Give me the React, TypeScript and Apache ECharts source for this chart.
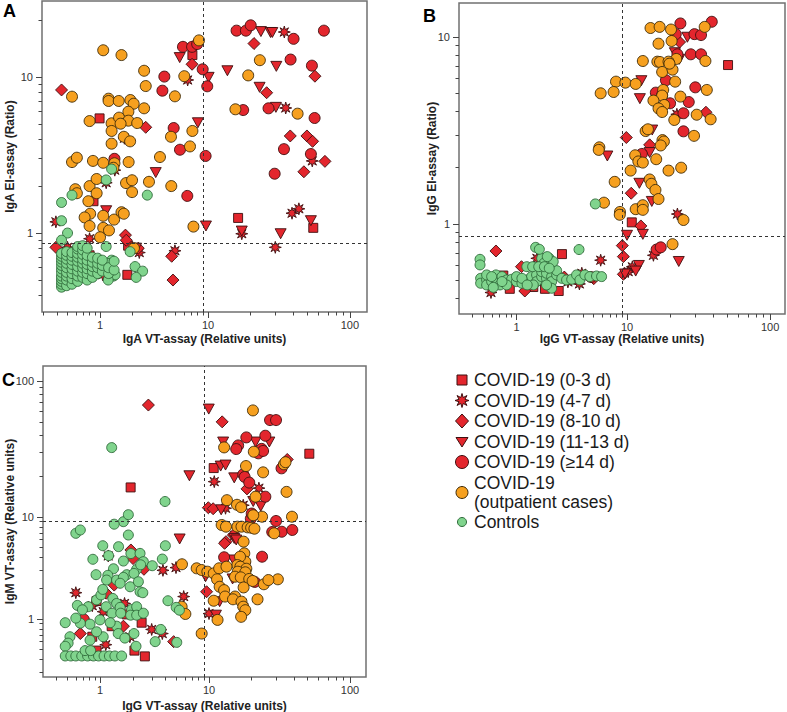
import React, { useEffect, useRef } from 'react';
import * as echarts from 'echarts';

type Pt = [number, number];

const groupNames = [
  'COVID-19 (0-3 d)',
  'COVID-19 (4-7 d)',
  'COVID-19 (8-10 d)',
  'COVID-19 (11-13 d)',
  'COVID-19 (≥14 d)',
  'COVID-19 (outpatient cases)',
  'Controls',
];
const legendLabels = [
  'COVID-19 (0-3 d)',
  'COVID-19 (4-7 d)',
  'COVID-19 (8-10 d)',
  'COVID-19 (11-13 d)',
  'COVID-19 (≥14 d)',
  'COVID-19\n(outpatient cases)',
  'Controls',
];

const xTickLabelsLow = [1, 10];
const xTickLabelsHigh = [100];

// ---------------- Panel A: IgA VT-assay (x) vs IgA EI-assay (y)
const A_d0_3: Pt[] = [[7.17, 13.1], [0.99, 5.43], [0.87, 1.6], [16.3, 1.25], [55.2, 1.08], [1.82, 0.83], [1.79, 0.54], [0.8, 0.72]];
const A_d4_7: Pt[] = [[6.48, 9.57], [34.5, 17.4], [35.3, 6.33], [1.68, 4.05], [1.37, 2.53], [1.14, 2.1], [54.3, 2.9], [39.1, 1.34], [43.7, 1.43], [17.3, 0.99], [29.8, 0.81], [4.94, 0.77], [0.5, 0.81], [0.8, 0.92], [0.39, 1.18], [2.31, 0.75], [1.21, 0.59], [1.06, 0.54]];
const A_d8_10: Pt[] = [[0.44, 8.26], [7.12, 11.7], [21.1, 15.1], [2.65, 4.76], [25.9, 7.93], [38.0, 4.19], [49.8, 4.19], [54.6, 3.87], [47.4, 2.47], [66.7, 2.88], [56.7, 10.1], [0.39, 0.81], [1.72, 0.97], [1.75, 0.9], [4.61, 0.71], [4.74, 0.5], [2.26, 0.8]];
const A_d11_13: Pt[] = [[5.47, 12.7], [13.7, 10.8], [10.1, 9.95], [23.6, 17.5], [27.6, 17.3], [28.4, 17.3], [30.3, 11.4], [23.1, 8.59], [30.1, 6.39], [8.06, 5.09], [3.28, 2.44], [1.14, 1.39], [9.57, 1.11], [53.1, 1.2], [32.5, 0.99], [17.3, 1.03], [2.16, 0.8]];
const A_d14: Pt[] = [[15.9, 17.7], [18.5, 17.7], [20.0, 18.9], [65.6, 17.7], [5.86, 14.5], [7.12, 14.5], [7.94, 15.0], [40.1, 16.0], [8.93, 11.0], [3.94, 10.05], [38.2, 12.4], [54.0, 11.5], [9.84, 8.72], [3.78, 8.17], [17.7, 6.14], [26.7, 6.3], [56.4, 5.46], [4.81, 4.71], [34.3, 3.45], [5.5, 3.42], [9.5, 3.12], [53.1, 3.21], [29.5, 2.4], [6.43, 1.73], [1.36, 2.99], [0.78, 0.66]];
const A_outpatient: Pt[] = [[1.07, 13.9], [1.58, 13.1], [8.25, 15.7], [2.56, 10.8], [6.03, 10.1], [2.65, 8.75], [4.94, 7.52], [0.55, 7.48], [23.2, 12.3], [19.2, 10.2], [1.2, 7.26], [1.2, 7.02], [1.49, 7.02], [1.91, 7.12], [2.05, 6.74], [2.56, 6.3], [0.8, 5.22], [1.28, 5.05], [1.5, 5.49], [1.83, 5.99], [1.83, 5.25], [2.21, 5.07], [1.28, 4.51], [1.55, 5.02], [1.66, 4.14], [1.9, 3.87], [1.28, 3.74], [4.54, 4.14], [7.17, 4.51], [6.81, 3.59], [3.59, 3.07], [15.6, 6.21], [42.8, 5.82], [0.55, 2.85], [0.61, 3.04], [0.86, 2.9], [1.07, 2.82], [1.36, 2.8], [1.84, 2.85], [1.33, 2.62], [0.59, 1.91], [0.61, 1.8], [0.8, 2.0], [0.93, 2.22], [0.93, 1.8], [1.74, 2.09], [1.98, 2.18], [1.98, 1.83], [2.84, 2.13], [4.57, 2.0], [0.78, 1.6], [0.81, 1.33], [0.72, 1.26], [1.07, 1.29], [1.35, 1.22], [1.58, 1.36], [1.66, 1.33], [0.8, 1.11], [1.07, 1.08], [1.21, 1.04], [1.0, 0.94], [7.33, 1.1], [2.06, 0.8]];
const A_controls: Pt[] = [
  [1.28, 2.57], [1.14, 2.19], [0.55, 1.75], [0.44, 1.57], [0.44, 1.2], [0.5, 1.0], [0.44, 0.9], [2.74, 1.75], [1.14, 0.82], [1.9, 0.76], [2.11, 0.61], [2.48, 0.57], [2.16, 0.52], [1.28, 0.67], [1.18, 0.64], [1.33, 0.53], [1.38, 0.54], [1.19, 0.5],
  [0.44, 0.45], [0.44, 0.47], [0.44, 0.49], [0.44, 0.51], [0.44, 0.53], [0.44, 0.56], [0.44, 0.59], [0.44, 0.62], [0.44, 0.65], [0.44, 0.68], [0.44, 0.71], [0.44, 0.74],
  [0.49, 0.46], [0.49, 0.5], [0.49, 0.53], [0.49, 0.56], [0.49, 0.6], [0.49, 0.64], [0.49, 0.68], [0.49, 0.72], [0.49, 0.76],
  [0.55, 0.47], [0.55, 0.51], [0.55, 0.55], [0.55, 0.59], [0.55, 0.63], [0.55, 0.67], [0.55, 0.71], [0.55, 0.75],
  [0.62, 0.49], [0.62, 0.53], [0.62, 0.57], [0.62, 0.61], [0.62, 0.66], [0.62, 0.7], [0.62, 0.74], [0.62, 0.79], [0.62, 0.82],
  [0.69, 0.52], [0.69, 0.56], [0.69, 0.6], [0.69, 0.64], [0.69, 0.68], [0.69, 0.73], [0.69, 0.78], [0.69, 0.83],
  [0.76, 0.5], [0.76, 0.55], [0.76, 0.59], [0.76, 0.63], [0.76, 0.67], [0.76, 0.72], [0.76, 0.8],
  [0.85, 0.52], [0.85, 0.57], [0.85, 0.61], [0.85, 0.65], [0.85, 0.7],
  [0.95, 0.55], [0.95, 0.6], [0.95, 0.64], [0.95, 0.69],
  [1.05, 0.57], [1.05, 0.62], [1.05, 0.67], [1.2, 0.55], [1.2, 0.6], [1.35, 0.58], [1.35, 0.66],
];

// ---------------- Panel B: IgG VT-assay (x) vs IgG EI-assay (y)
const B_d0_3: Pt[] = [[50.8, 7.08], [10.8, 1.02], [2.58, 0.69], [2.41, 0.438], [0.76, 0.53], [0.87, 0.45], [1.81, 0.45], [1.42, 0.46]];
const B_d4_7: Pt[] = [[22.3, 3.86], [22.5, 1.13], [15.3, 0.68], [5.78, 0.64], [10.9, 0.59], [10.2, 0.556], [3.71, 0.478], [2.92, 0.49], [1.53, 0.655], [0.588, 0.43], [3.9, 0.545]];
const B_d8_10: Pt[] = [[23.3, 9.4], [9.86, 2.9], [14.4, 2.65], [10.7, 1.46], [12.5, 0.976], [9.07, 0.766], [9.27, 0.669], [0.652, 0.717], [1.11, 0.591], [35.6, 3.96], [9.27, 0.538], [1.19, 0.438], [2.71, 0.52], [5.0, 0.51]];
const B_d11_13: Pt[] = [[26.4, 9.97], [21.6, 8.24], [23.2, 7.6], [12.6, 5.84], [12.3, 4.68], [15.0, 3.18], [6.64, 2.31], [14.4, 2.41], [12.2, 1.65], [14.9, 1.32], [10.0, 0.87], [12.9, 0.88], [23.0, 0.63], [12.1, 0.6], [11.5, 0.56], [9.6, 0.54]];
const B_d14: Pt[] = [[23.6, 11.5], [39.1, 11.7], [21.9, 10.3], [29.6, 10.3], [32.9, 10.2], [22.5, 8.08], [27.9, 8.08], [32.9, 8.08], [18.7, 5.87], [30.0, 5.38], [15.9, 5.04], [17.6, 4.9], [20.0, 4.42], [27.0, 4.49], [24.8, 3.91], [24.8, 3.13], [12.7, 2.37], [16.1, 0.73], [17.2, 0.75], [4.72, 0.52]];
const B_outpatient: Pt[] = [[14.6, 10.97], [16.9, 11.1], [20.3, 10.8], [34.9, 11.1], [20.5, 9.52], [16.6, 9.21], [22.1, 7.63], [12.9, 7.44], [16.3, 7.38], [17.0, 7.35], [19.5, 7.38], [17.6, 6.5], [20.8, 6.69], [19.8, 7.2], [35.3, 7.44], [7.95, 5.77], [9.66, 5.7], [11.5, 5.61], [21.7, 5.77], [7.57, 5.08], [5.78, 5.0], [36.1, 5.21], [17.9, 5.21], [17.6, 4.86], [23.6, 4.8], [15.3, 4.57], [18.2, 4.33], [16.6, 4.15], [17.6, 3.97], [21.4, 3.6], [30.7, 3.84], [38.4, 3.63], [13.5, 3.14], [14.0, 3.21], [29.4, 2.96], [17.7, 2.81], [18.1, 2.76], [17.2, 2.63], [5.62, 2.57], [5.55, 2.49], [11.4, 2.33], [12.0, 2.16], [12.9, 2.13], [16.0, 2.22], [10.6, 1.93], [19.5, 1.93], [23.9, 2.0], [7.74, 1.68], [14.4, 1.73], [14.8, 1.64], [15.8, 1.52], [16.6, 1.36], [6.19, 1.3], [11.5, 1.2], [12.9, 1.26], [12.9, 1.19], [8.64, 1.16], [8.6, 1.12], [24.8, 1.05], [20.8, 0.78]];
const B_controls: Pt[] = [[0.468, 0.647], [0.468, 0.604], [1.49, 0.75], [3.68, 0.73], [5.17, 1.28], [0.474, 0.512], [0.474, 0.482], [0.537, 0.502], [0.537, 0.472], [0.596, 0.492], [0.652, 0.534], [0.662, 0.492], [0.74, 0.523], [0.815, 0.502], [0.904, 0.506], [1.0, 0.492], [1.0, 0.523], [1.12, 0.482], [1.24, 0.502], [1.37, 0.523], [1.52, 0.534], [1.52, 0.492], [1.69, 0.523], [1.69, 0.556], [1.87, 0.512], [1.87, 0.545], [2.08, 0.523], [2.08, 0.492], [2.31, 0.534], [2.31, 0.563], [2.57, 0.512], [2.84, 0.502], [3.16, 0.506], [3.5, 0.534], [3.75, 0.502], [4.16, 0.534], [4.61, 0.523], [5.3, 0.527], [5.89, 0.523], [1.69, 0.655], [1.98, 0.655], [2.15, 0.629], [1.77, 0.616], [1.24, 0.591], [1.4, 0.591], [1.59, 0.591], [1.79, 0.591], [1.98, 0.58], [1.61, 0.732], [1.9, 0.669], [2.08, 0.453], [1.42, 0.472], [1.87, 0.472], [0.709, 0.472], [0.815, 0.472], [0.617, 0.458], [0.537, 0.534], [0.596, 0.523], [0.74, 0.492], [1.12, 0.512], [1.25, 0.472]];

// ---------------- Panel C: IgG VT-assay (x) vs IgM VT-assay (y)
const C_d0_3: Pt[] = [[51.5, 29.2], [10.8, 22.9], [1.91, 16.5], [0.93, 1.5], [1.76, 1.11], [1.28, 0.85], [2.41, 0.92], [0.85, 0.67], [2.07, 0.49], [2.58, 0.43], [0.93, 0.49]];
const C_d4_7: Pt[] = [[22.6, 16.3], [10.9, 18.2], [13.1, 11.6], [15.2, 6.6], [0.6, 1.81], [1.19, 4.15], [3.78, 3.0], [4.98, 3.19], [5.86, 1.66], [0.85, 1.35], [1.07, 1.18], [1.68, 1.42], [1.88, 0.67], [2.98, 0.79], [3.73, 0.72], [1.13, 0.56], [10.0, 1.13], [17.2, 1.42], [17.5, 12.2]];
const C_d8_10: Pt[] = [[2.78, 66.6], [12.4, 50.1], [35.9, 26.5], [18.6, 16.1], [9.86, 11.7], [10.7, 11.5], [13.2, 5.73], [12.9, 5.52], [14.9, 6.66], [1.92, 4.75], [2.01, 3.91], [2.53, 3.07], [1.35, 2.15], [1.14, 1.79], [9.5, 1.85], [0.66, 0.72], [4.74, 0.6], [1.64, 0.85]];
const C_d11_13: Pt[] = [[9.95, 62.2], [12.6, 35.6], [21.4, 35.6], [26.8, 35.6], [12.1, 23.7], [13.1, 24.1], [6.61, 20.1], [15.1, 19.4], [23.3, 12.0], [12.2, 11.3], [5.38, 6.09], [15.1, 6.16], [15.6, 5.95], [14.9, 3.79], [14.7, 2.47], [11.9, 1.48], [11.2, 1.09], [9.3, 2.6], [20.6, 13.0]];
const C_d14: Pt[] = [[27.1, 51.6], [29.9, 51.6], [18.4, 38.5], [25.1, 39.6], [16.1, 33.6], [15.6, 31.6], [22.4, 29.4], [23.6, 31.7], [24.2, 30.6], [32.7, 22.8], [17.5, 20.6], [17.9, 19.7], [19.3, 17.9], [25.1, 14.1], [20.1, 10.6], [19.8, 9.63], [29.9, 9.14], [28.1, 7.13], [32.8, 7.17], [39.0, 7.46], [23.8, 4.08], [12.8, 4.03], [17.5, 3.79], [17.9, 3.57], [21.1, 2.31], [0.71, 0.99]];
const C_outpatient: Pt[] = [[20.5, 60.8], [12.8, 32.5], [20.8, 30.2], [34.0, 24.4], [34.9, 25.3], [24.2, 21.3], [18.3, 23.7], [35.5, 15.3], [13.4, 13.3], [15.8, 12.3], [16.9, 11.8], [21.4, 14.1], [23.8, 10.05], [38.8, 10.05], [20.6, 10.3], [12.3, 8.35], [13.2, 8.04], [15.9, 8.04], [17.0, 8.04], [18.8, 7.92], [19.9, 7.85], [21.0, 7.68], [29.0, 6.92], [17.6, 5.73], [17.8, 4.4], [18.1, 3.65], [16.6, 4.08], [15.9, 3.38], [16.7, 3.26], [18.4, 3.11], [16.0, 2.91], [18.1, 2.87], [15.3, 2.6], [16.8, 2.56], [19.3, 2.47], [20.4, 2.36], [24.5, 2.19], [30.8, 2.45], [5.65, 3.44], [7.71, 3.14], [8.57, 3.02], [9.66, 2.91], [10.8, 2.8], [11.8, 3.14], [13.3, 3.26], [11.4, 2.45], [11.9, 2.07], [12.8, 1.92], [13.0, 1.66], [15.3, 1.66], [10.8, 1.51], [14.8, 1.56], [17.6, 2.04], [17.0, 1.48], [17.5, 1.32], [18.1, 1.22], [16.9, 1.05], [11.5, 0.98], [22.1, 1.56], [26.4, 2.41], [5.61, 1.32], [6.07, 1.12], [8.57, 0.72]];
const C_controls: Pt[] = [[1.28, 32.4], [3.95, 13.0], [1.82, 10.4], [1.64, 9.0], [1.35, 8.5], [0.6, 6.92], [0.66, 7.46], [1.82, 6.66], [1.06, 5.23], [1.48, 5.12], [3.98, 5.23], [0.86, 3.85], [1.2, 4.18], [1.92, 4.38], [2.33, 4.4], [1.64, 3.7], [2.5, 3.65], [3.73, 3.87], [3.02, 3.33], [1.33, 3.11], [2.17, 3.07], [2.36, 3.4], [0.92, 2.72], [1.18, 2.68], [1.76, 2.72], [2.05, 2.8], [1.15, 2.41], [1.42, 2.41], [1.64, 2.56], [1.53, 2.24], [1.89, 2.07], [2.25, 2.32], [2.33, 1.85], [2.47, 1.81], [0.62, 1.36], [0.78, 1.32], [0.69, 1.23], [0.93, 1.54], [1.02, 1.72], [1.06, 1.95], [1.31, 1.59], [1.42, 1.42], [1.53, 1.3], [1.14, 1.32], [1.29, 1.14], [1.55, 1.14], [1.95, 1.24], [2.17, 1.32], [1.91, 1.09], [2.17, 1.09], [2.5, 1.14], [4.2, 1.51], [5.0, 1.3], [5.35, 1.22], [5.06, 0.59], [3.21, 0.6], [3.61, 0.79], [1.42, 0.85], [1.24, 0.92], [1.47, 0.72], [2.05, 0.72], [2.14, 0.54], [1.69, 0.65], [1.07, 0.67], [0.93, 0.75], [0.81, 0.89], [0.66, 0.91], [0.48, 0.92], [0.6, 1.02], [0.53, 0.67], [0.51, 0.58], [0.48, 0.54], [0.81, 0.62], [1.0, 0.98], [0.48, 0.434], [0.54, 0.434], [0.6, 0.434], [0.68, 0.434], [0.77, 0.434], [0.87, 0.434], [0.97, 0.434], [1.09, 0.434], [1.22, 0.434], [1.37, 0.434], [1.58, 0.434], [0.73, 0.49], [0.82, 0.49]];

// ---------------- styling
const FONT = '"Liberation Sans", Arial, Helvetica, sans-serif';
const RED = '#e3262d';
const ORANGE = '#f6a01f';
const GREEN = '#80d48d';
const RED_EDGE = '#3d1010';
const STAR = 'path://M50 0L58.42 29.67L85.36 14.64L70.33 41.58L100 50L70.33 58.42L85.36 85.36L58.42 70.33L50 100L41.58 70.33L14.64 85.36L29.67 58.42L0 50L29.67 41.58L14.64 14.64L41.58 29.67Z';
const TRI_DOWN = 'path://M0 0L100 0L50 86Z';

const groupStyles: any[] = [
  { symbol: 'rect', size: 9, color: RED, edge: RED_EDGE },
  { symbol: STAR, size: 12, color: RED, edge: RED_EDGE },
  { symbol: 'diamond', size: 12, color: RED, edge: RED_EDGE },
  { symbol: TRI_DOWN, size: [11, 10], color: RED, edge: RED_EDGE },
  { symbol: 'circle', size: 11, color: RED, edge: RED_EDGE },
  { symbol: 'circle', size: 11, color: ORANGE, edge: '#3d2a08' },
  { symbol: 'circle', size: 10, color: GREEN, edge: '#2f6a3a' },
];

const panels = [
  {
    letter: 'A', letterPos: [3, 11], L: 42, R: 367, T: 1, B: 312, xs: 208, ys: 77,
    xMin: 0.29, xMax: 132, yMin: 0.312, yMax: 25.5, yUpperLabels: [] as number[],
    xName: 'IgA VT-assay (Relative units)', yName: 'IgA EI-assay (Ratio)', xNameGap: 21, yNameGap: 26,
    vLine: 9, hLine: 0.86,
    data: [A_d0_3, A_d4_7, A_d8_10, A_d11_13, A_d14, A_outpatient, A_controls],
  },
  {
    letter: 'B', letterPos: [423, 16], L: 459, R: 785, T: 3, B: 314, xs: 627, ys: 37,
    xMin: 0.302, xMax: 127, yMin: 0.33, yMax: 14.2, yUpperLabels: [] as number[],
    xName: 'IgG VT-assay (Relative units)', yName: 'IgG EI-assay (Ratio)', xNameGap: 19, yNameGap: 21,
    vLine: 9, hLine: 0.86,
    data: [B_d0_3, B_d4_7, B_d8_10, B_d11_13, B_d14, B_outpatient, B_controls],
  },
  {
    letter: 'C', letterPos: [2, 380], L: 43, R: 366, T: 366, B: 677, xs: 209, ys: 517,
    xMin: 0.3, xMax: 130, yMin: 0.27, yMax: 129, yUpperLabels: [100],
    xName: 'IgG VT-assay (Relative units)', yName: 'IgM VT-assay (Relative units)', xNameGap: 23, yNameGap: 27,
    vLine: 9, hLine: 9,
    data: [C_d0_3, C_d4_7, C_d8_10, C_d11_13, C_d14, C_outpatient, C_controls],
  },
];

function logAxis(gridIndex: number, min: number, max: number, visible: boolean, labels: number[], dim: 'x' | 'y') {
  const has = labels.length > 0;
  return {
    type: 'log', logBase: 10, gridIndex, min, max, show: visible,
    axisLine: { show: false },
    axisTick: { show: has, customValues: has ? labels : undefined, length: 6, lineStyle: { color: '#444', width: 1 } },
    minorTick: { show: true, splitNumber: 9, length: 3.5, lineStyle: { color: '#444', width: 1 } },
    axisLabel: {
      show: has, customValues: has ? labels : undefined, hideOverlap: false,
      margin: dim === 'x' ? 7 : 9, fontSize: 11, color: '#333', fontFamily: FONT,
      formatter: (v: number) => String(Math.round(v * 1000) / 1000),
    },
    splitLine: { show: false },
    minorSplitLine: { show: false },
  };
}

function starPoints(cx: number, cy: number, R: number, r: number) {
  const pts: number[][] = [];
  for (let i = 0; i < 16; i++) {
    const a = -Math.PI / 2 + (i * Math.PI) / 8;
    const rad = i % 2 === 0 ? R : r;
    pts.push([cx + rad * Math.cos(a), cy + rad * Math.sin(a)]);
  }
  return pts;
}

function buildOption() {
  const grid: any[] = [];
  const xAxis: any[] = [];
  const yAxis: any[] = [];
  const series: any[] = [];
  const graphic: any[] = [];

  panels.forEach((p) => {
    const seg: Record<string, number> = {};
    for (const ys of [0, 1]) {
      for (const xs of [0, 1]) {
        const gi = grid.length;
        const left = xs === 0 ? p.L : p.xs;
        const right = xs === 0 ? p.xs : p.R;
        const top = ys === 0 ? p.ys : p.T;
        const bottom = ys === 0 ? p.B : p.ys;
        grid.push({ left, top, width: right - left, height: bottom - top, show: false, containLabel: false, outerBoundsMode: 'none' });
        xAxis.push(logAxis(gi, xs === 0 ? p.xMin : 10, xs === 0 ? 10 : p.xMax, ys === 0, xs === 0 ? xTickLabelsLow : xTickLabelsHigh, 'x'));
        yAxis.push(logAxis(gi, ys === 0 ? p.yMin : 10, ys === 0 ? 10 : p.yMax, xs === 0, ys === 0 ? [1, 10] : p.yUpperLabels, 'y'));
        seg[`${xs}${ys}`] = gi;
      }
    }
    // frame grid with axis titles
    const fi = grid.length;
    grid.push({ left: p.L, top: p.T, width: p.R - p.L, height: p.B - p.T, show: true, borderColor: '#707070', borderWidth: 1.5, backgroundColor: 'rgba(0,0,0,0)', containLabel: false, outerBoundsMode: 'none' });
    const nameStyle = { fontWeight: 'bold', fontSize: 12, color: '#222', fontFamily: FONT };
    xAxis.push({ type: 'value', gridIndex: fi, min: 0, max: 1, axisLine: { show: false }, axisTick: { show: false }, axisLabel: { show: false }, splitLine: { show: false }, name: p.xName, nameLocation: 'middle', nameGap: p.xNameGap, nameTextStyle: nameStyle });
    yAxis.push({ type: 'value', gridIndex: fi, min: 0, max: 1, axisLine: { show: false }, axisTick: { show: false }, axisLabel: { show: false }, splitLine: { show: false }, name: p.yName, nameLocation: 'middle', nameGap: p.yNameGap, nameTextStyle: nameStyle });

    // threshold lines
    const lineStyle = { type: [3, 3], color: '#333', width: 1 };
    const mk = (gi: number, d: any[]) => ({
      type: 'scatter', xAxisIndex: gi, yAxisIndex: gi, data: [], silent: true, z: 1,
      markLine: { silent: true, symbol: ['none', 'none'], label: { show: false }, lineStyle, data: d, animation: false },
    });
    series.push(mk(seg['00'], [{ xAxis: p.vLine }, { yAxis: p.hLine }]));
    series.push(mk(seg['01'], [{ xAxis: p.vLine }]));
    series.push(mk(seg['10'], [{ yAxis: p.hLine }]));

    // points
    p.data.forEach((pts, g) => {
      const st = groupStyles[g];
      for (const key of ['00', '10', '01', '11']) {
        const xs = Number(key[0]);
        const ys = Number(key[1]);
        const sub = pts.filter(([x, y]) => (x > 10 ? 1 : 0) === xs && (y > 10 ? 1 : 0) === ys);
        if (!sub.length) continue;
        const gi = seg[key];
        series.push({
          type: 'scatter', name: groupNames[g], xAxisIndex: gi, yAxisIndex: gi, data: sub,
          symbol: st.symbol, symbolSize: st.size, clip: false, silent: true, z: 2,
          itemStyle: { color: st.color, borderColor: st.edge, borderWidth: 0.9, opacity: 1 },
        });
      }
    });

    graphic.push({
      type: 'text', x: p.letterPos[0], y: p.letterPos[1],
      style: { text: p.letter, font: `bold 18px ${FONT}`, fill: '#000', verticalAlign: 'middle', align: 'left' },
    });
  });

  // legend (drawn)
  const lx = 462;
  const tx = 474;
  const rowsY = [380, 400.5, 421, 442, 462, 492.5, 522];
  const edge = { stroke: RED_EDGE, lineWidth: 1 };
  graphic.push({ type: 'rect', shape: { x: lx - 5, y: rowsY[0] - 5, width: 10, height: 10 }, style: { fill: RED, ...edge } });
  graphic.push({ type: 'polygon', shape: { points: starPoints(lx, rowsY[1], 7, 3.2) }, style: { fill: RED, ...edge } });
  graphic.push({ type: 'polygon', shape: { points: [[lx, rowsY[2] - 7], [lx + 6.5, rowsY[2]], [lx, rowsY[2] + 7], [lx - 6.5, rowsY[2]]] }, style: { fill: RED, ...edge } });
  graphic.push({ type: 'polygon', shape: { points: [[lx - 6, rowsY[3] - 4.5], [lx + 6, rowsY[3] - 4.5], [lx, rowsY[3] + 5]] }, style: { fill: RED, ...edge } });
  graphic.push({ type: 'circle', shape: { cx: lx, cy: rowsY[4], r: 6.5 }, style: { fill: RED, ...edge } });
  graphic.push({ type: 'circle', shape: { cx: lx, cy: rowsY[5], r: 6 }, style: { fill: ORANGE, stroke: '#3d2a08', lineWidth: 1 } });
  graphic.push({ type: 'circle', shape: { cx: lx, cy: rowsY[6], r: 4.5 }, style: { fill: GREEN, stroke: '#2f6a3a', lineWidth: 1 } });
  legendLabels.forEach((t, i) => {
    graphic.push({
      type: 'text', x: tx, y: rowsY[i],
      style: { text: t, font: `17.5px ${FONT}`, fill: '#1a1a1a', verticalAlign: 'middle', align: 'left', lineHeight: 19 },
    });
  });

  return {
    animation: false,
    backgroundColor: '#ffffff',
    textStyle: { fontFamily: FONT },
    grid, xAxis, yAxis, series, graphic,
  };
}

export default function App() {
  const ref = useRef<HTMLDivElement>(null);
  useEffect(() => {
    document.body.style.margin = '0';
    if (!ref.current) return;
    const chart = echarts.init(ref.current, undefined, { renderer: 'svg' });
    chart.setOption(buildOption() as any);
    return () => chart.dispose();
  }, []);
  return <div ref={ref} style={{ width: 787, height: 712 }} />;
}
